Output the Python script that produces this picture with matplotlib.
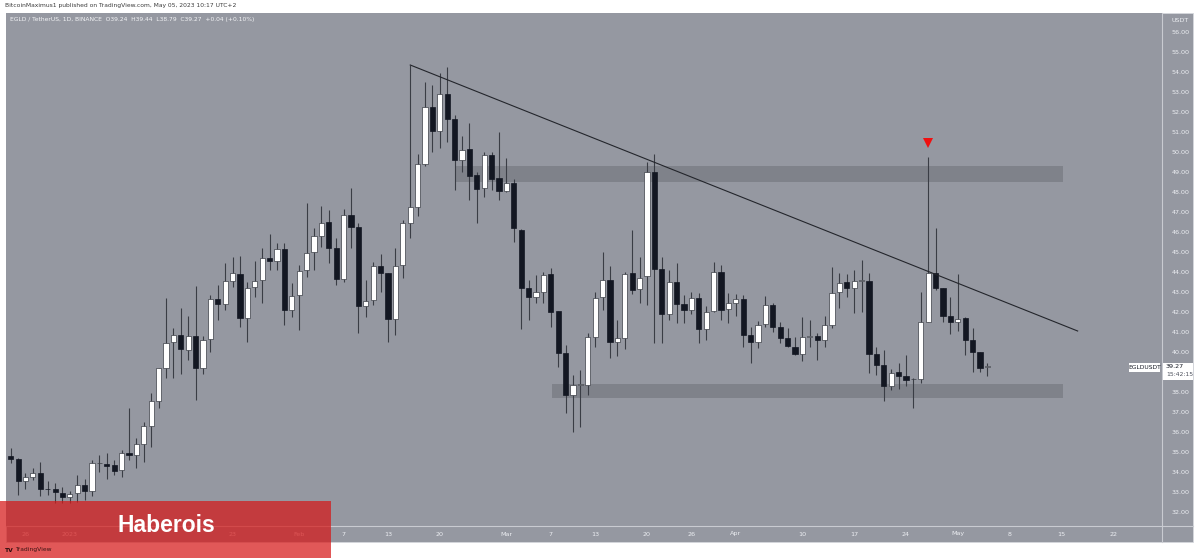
"""
EGLD / TetherUS 1D candles (TradingView style snapshot) with
descending trendline, resistance / support zones and a watermark box.
"""

import matplotlib
matplotlib.use("Agg")
import matplotlib.pyplot as plt
from matplotlib.patches import Rectangle


# =========================
# DATA
# =========================
# candle index 0 = 2022-12-24, one candle per day, last = 2023-05-05

opens = [
    34.80, 34.65, 33.57, 33.73, 33.93, 33.17, 33.17, 32.97, 32.77, 32.93,
    33.35, 33.07, 34.43, 34.40, 34.33, 34.10, 34.97, 34.85, 35.40, 36.30,
    37.55, 39.18, 40.48, 40.85, 40.10, 40.82, 39.20, 40.63, 42.63, 42.38,
    43.57, 43.90, 41.68, 43.23, 43.60, 44.68, 44.55, 45.15, 42.10, 42.83,
    44.10, 45.02, 45.80, 46.50, 45.22, 43.65, 46.85, 46.27, 42.32, 42.60,
    44.30, 43.93, 41.63, 44.35, 46.43, 47.27, 49.38, 52.23, 51.07, 52.88,
    51.63, 49.60, 50.13, 48.85, 48.18, 49.85, 48.68, 48.05, 48.43, 46.10,
    43.22, 42.73, 43.02, 43.88, 42.05, 39.93, 37.85, 38.35, 38.35, 40.73,
    42.77, 43.60, 40.48, 40.68, 43.93, 43.13, 43.80, 49.00, 44.13, 41.90,
    43.52, 42.40, 42.10, 42.72, 41.13, 42.07, 44.02, 42.13, 42.43, 42.63,
    40.85, 40.52, 41.40, 42.35, 41.23, 40.72, 40.27, 39.90, 40.77, 40.80,
    40.60, 41.33, 43.00, 43.48, 43.18, 43.55, 43.55, 39.90, 39.35, 38.30,
    38.98, 38.80, 38.63, 38.63, 41.52, 43.97, 43.22, 41.82, 41.48, 41.68,
    40.60, 40.02, 39.24,
]
highs = [
    35.20, 34.70, 33.95, 34.20, 34.50, 33.57, 33.45, 33.27, 33.07, 33.85,
    33.65, 34.60, 34.85, 34.93, 34.60, 35.10, 37.20, 35.70, 36.50, 37.95,
    39.20, 42.70, 41.20, 42.20, 41.80, 43.30, 40.80, 42.85, 43.35, 44.45,
    44.77, 44.80, 43.52, 44.55, 45.18, 45.90, 45.43, 45.43, 43.43, 44.35,
    47.47, 46.18, 47.30, 47.10, 45.68, 47.13, 48.18, 46.43, 43.60, 44.52,
    44.90, 43.95, 45.18, 46.60, 54.35, 49.88, 53.52, 53.35, 53.93, 54.23,
    51.85, 50.80, 51.43, 49.02, 50.02, 50.02, 51.02, 49.72, 48.65, 46.13,
    43.60, 43.85, 44.02, 44.18, 42.05, 40.35, 38.85, 39.10, 40.93, 43.02,
    45.02, 44.30, 41.60, 44.02, 46.10, 44.73, 49.50, 49.90, 44.77, 44.10,
    44.43, 42.85, 43.02, 42.93, 42.30, 44.52, 44.35, 42.93, 42.90, 42.85,
    41.23, 41.57, 42.80, 42.43, 41.52, 41.18, 40.77, 41.73, 41.60, 40.93,
    41.80, 44.23, 43.97, 43.90, 44.10, 44.60, 43.93, 40.27, 40.10, 39.13,
    39.43, 39.85, 38.68, 43.00, 49.77, 46.18, 43.22, 42.77, 43.90, 41.73,
    41.18, 40.02, 39.44,
]
lows = [
    34.45, 32.85, 33.15, 33.60, 32.80, 32.85, 32.45, 32.43, 32.43, 32.50,
    32.60, 32.80, 34.00, 33.63, 33.85, 33.73, 34.60, 34.20, 34.50, 35.25,
    37.20, 38.70, 38.70, 38.90, 39.60, 37.60, 38.90, 40.00, 41.60, 42.10,
    43.23, 41.23, 40.52, 42.77, 42.47, 44.10, 44.10, 41.35, 41.77, 41.10,
    43.77, 44.10, 45.27, 44.43, 43.35, 43.48, 45.18, 40.97, 41.77, 42.35,
    43.02, 40.52, 40.85, 43.68, 45.68, 46.80, 49.30, 50.02, 50.18, 50.52,
    48.10, 49.02, 47.60, 46.43, 47.77, 48.10, 47.60, 48.02, 45.52, 41.13,
    41.60, 42.43, 42.43, 41.27, 39.27, 36.93, 36.02, 36.27, 37.85, 40.27,
    42.10, 39.68, 39.80, 40.13, 42.90, 42.47, 42.35, 40.43, 40.43, 41.60,
    41.43, 41.43, 41.90, 40.43, 40.60, 42.00, 41.60, 41.47, 41.82, 40.23,
    39.47, 40.20, 41.23, 41.00, 40.47, 40.23, 39.85, 39.57, 40.27, 39.60,
    40.27, 41.18, 42.18, 42.77, 41.93, 42.02, 38.93, 38.85, 37.57, 38.10,
    38.13, 38.30, 37.18, 38.43, 41.50, 43.10, 41.52, 40.90, 41.07, 39.85,
    39.02, 39.02, 38.79,
]
closes = [
    34.65, 33.55, 33.73, 33.93, 33.17, 33.13, 33.00, 32.77, 32.90, 33.35,
    33.07, 34.43, 34.45, 34.30, 34.07, 34.97, 34.83, 35.40, 36.30, 37.55,
    39.18, 40.47, 40.85, 40.13, 40.78, 39.22, 40.60, 42.63, 42.38, 43.57,
    43.93, 41.68, 43.22, 43.57, 44.68, 44.57, 45.15, 42.10, 42.82, 44.07,
    44.93, 45.80, 46.47, 45.22, 43.63, 46.85, 46.27, 42.32, 42.57, 44.30,
    43.93, 41.63, 44.30, 46.43, 47.27, 49.38, 52.23, 51.07, 52.88, 51.63,
    49.60, 50.10, 48.80, 48.15, 49.85, 48.65, 48.07, 48.43, 46.18, 43.22,
    42.73, 42.98, 43.85, 42.02, 39.93, 37.85, 38.35, 38.35, 40.73, 42.68,
    43.60, 40.52, 40.68, 43.88, 43.10, 43.68, 49.00, 44.13, 41.90, 43.52,
    42.40, 42.10, 42.72, 41.13, 42.02, 44.02, 42.10, 42.43, 42.63, 40.85,
    40.52, 41.35, 42.35, 41.27, 40.72, 40.30, 39.90, 40.77, 40.77, 40.60,
    41.33, 42.97, 43.47, 43.18, 43.55, 43.55, 39.90, 39.35, 38.30, 38.97,
    38.80, 38.60, 38.63, 41.52, 43.97, 43.22, 41.82, 41.48, 41.65, 40.60,
    40.02, 39.18, 39.27,
]

# date axis: candle index -> label (Jan 9 / Jan 16 sit under the watermark)
date_pos = [2, 8, 30, 39, 45, 51, 58, 67, 73, 79, 86, 92, 98,
            107, 114, 121, 128, 135, 142, 149]
date_labels = ["26", "2023", "23", "Feb", "7", "13", "20", "Mar",
               "7", "13", "20", "26", "Apr", "10", "17", "24", "May", "8",
               "15", "22"]

price_ticks = list(range(32, 57))

# descending trendline (candle index, price)
trend_x = [54, 144.2]
trend_y = [54.35, 41.05]

# horizontal zones: (x start, x end, price low, price high)
resistance_zone = (60.2, 142.2, 48.50, 49.30)
support_zone = (73.1, 142.2, 37.68, 38.38)

# red marker above the Apr 27 spike
marker_x = 124
marker_y = 50.45

last_price = "39.27"
countdown = "15:42:15"


# =========================
# STYLE
# =========================

W, H = 1200, 560
BG = "#9598a1"
DARK = "#131722"
WICK = "#3a3d45"
AXIS_TXT = "#eceef2"
SEP = "#c9cbd1"


def fx(px):
    return px / W


def fy(py):
    return 1 - py / H


def draw_candles(ax):
    for i, (o, h, l, c) in enumerate(zip(opens, highs, lows, closes)):
        ax.plot([i, i], [l, h], color=WICK, lw=0.8, zorder=3,
                solid_capstyle="butt")
        bull = c >= o
        lo = min(o, c)
        hgt = max(abs(c - o), 0.04)
        face = "white" if bull else DARK
        ax.add_patch(Rectangle((i - 0.35, lo), 0.70, hgt,
                               facecolor=face, edgecolor=WICK if bull else DARK,
                               lw=0.5, zorder=4))


def main():
    fig = plt.figure(figsize=(W / 100, H / 100), dpi=100)
    fig.patch.set_facecolor("white")

    # gray chart panel (plot + price scale + time scale)
    fig.add_artist(Rectangle((fx(6), fy(542)), fx(1193 - 6), (542 - 13) / H,
                             transform=fig.transFigure, facecolor=BG,
                             edgecolor="#d6d8dd", lw=0.6, zorder=-1))

    ax = fig.add_axes([fx(6), fy(526), fx(1162 - 6), (526 - 13) / H])
    ax.set_facecolor(BG)
    for s in ax.spines.values():
        s.set_visible(False)
    ax.set_xlim(-0.635, 155.6)
    ax.set_ylim(31.3, 56.95)
    ax.set_xticks([])
    ax.set_yticks([])

    # zones
    for x0, x1, p0, p1 in [resistance_zone, support_zone]:
        ax.add_patch(Rectangle((x0, p0), x1 - x0, p1 - p0,
                               facecolor="#55575e", alpha=0.33,
                               edgecolor="none", zorder=2))

    draw_candles(ax)

    # trendline
    ax.plot(trend_x, trend_y, color="#23252b", lw=0.8, zorder=5)

    # red down-triangle marker
    ax.plot([marker_x], [marker_y], marker="v", color="#f01010",
            markersize=7, markeredgewidth=0, zorder=6)

    # time scale labels
    xt = ax.get_xaxis_transform()
    for pos, lab in zip(date_pos, date_labels):
        ax.text(pos, -8 / 513, lab, transform=xt, ha="center", va="center",
                fontsize=4.6, color=AXIS_TXT, clip_on=False)

    # price scale labels
    yt = ax.get_yaxis_transform()
    for p in price_ticks:
        ax.text((1172 - 6) / 1156, p, f"{p:.2f}", transform=yt, ha="left",
                va="center", fontsize=4.6, color=AXIS_TXT, clip_on=False)
    fig.text(fx(1172), fy(20), "USDT", fontsize=4.6, color=AXIS_TXT,
             ha="left", va="center")

    # separators
    fig.add_artist(plt.Line2D([fx(1162), fx(1162)], [fy(13), fy(542)],
                              transform=fig.transFigure, color=SEP, lw=0.8))
    fig.add_artist(plt.Line2D([fx(6), fx(1193)], [fy(526), fy(526)],
                              transform=fig.transFigure, color=SEP, lw=0.8))

    # last price labels
    fig.add_artist(Rectangle((fx(1129), fy(372)), fx(31), 9 / H,
                             transform=fig.transFigure, facecolor="white",
                             edgecolor="none", zorder=3))
    fig.text(fx(1144.5), fy(367.5), "EGLDUSDT", fontsize=4.3, color=DARK,
             ha="center", va="center", zorder=4)
    fig.add_artist(Rectangle((fx(1163), fy(380)), fx(30), 17 / H,
                             transform=fig.transFigure, facecolor="white",
                             edgecolor="none", zorder=3))
    fig.text(fx(1166), fy(367), last_price, fontsize=4.6, color=DARK,
             ha="left", va="center", zorder=4)
    fig.text(fx(1166), fy(375), countdown, fontsize=4.3, color="#4a4e5a",
             ha="left", va="center", zorder=4)

    # header texts
    fig.text(fx(5), fy(6), "BitcoinMaximus1 published on TradingView.com, "
             "May 05, 2023 10:17 UTC+2", fontsize=4.3, color="#3b3b3b",
             ha="left", va="center")
    fig.text(fx(10), fy(20), "EGLD / TetherUS, 1D, BINANCE  O39.24  H39.44  "
             "L38.79  C39.27  +0.04 (+0.10%)", fontsize=4.3, color="#f4f5f7",
             ha="left", va="center")

    # watermark box
    fig.add_artist(Rectangle((0, fy(558)), fx(331), (558 - 501) / H,
                             transform=fig.transFigure, facecolor="#d61818",
                             alpha=0.72, edgecolor="none", zorder=10))
    fig.text(fx(166.5), fy(526), "Haberois", fontsize=16.5, fontweight="bold",
             family=["Liberation Sans", "DejaVu Sans"], color="white",
             ha="center", va="center", zorder=11)
    fig.text(fx(5), fy(550), "TV", fontsize=4.3, fontweight="bold",
             color="#2a0c0c", ha="left", va="center", zorder=11)
    fig.text(fx(15), fy(550), "TradingView", fontsize=4.3, color="#3a1414",
             ha="left", va="center", zorder=11)

    fig.savefig("out.png", dpi=100, facecolor=fig.get_facecolor())
    plt.close(fig)


if __name__ == "__main__":
    main()
